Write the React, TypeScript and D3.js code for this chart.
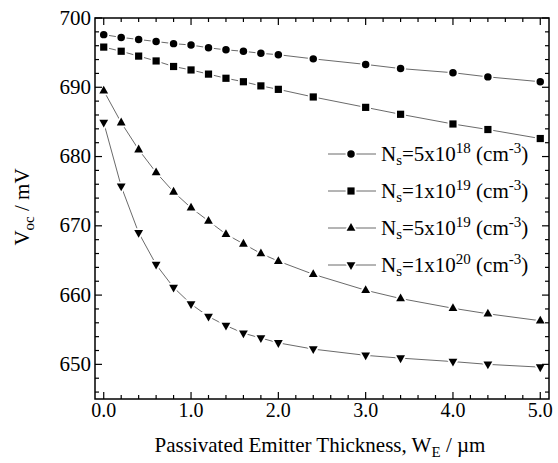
import * as d3 from 'd3';
import React from 'react';

// thickness W_E in um
const thickness = [0, 0.2, 0.4, 0.6, 0.8, 1.0, 1.2, 1.4, 1.6, 1.8, 2.0, 2.4, 3.0, 3.4, 4.0, 4.4, 5.0];

// Voc in mV, one array per surface concentration
const voc5e18 = [697.6, 697.2, 696.9, 696.6, 696.3, 696.1, 695.7, 695.4, 695.2, 694.9, 694.7, 694.1, 693.3, 692.7, 692.1, 691.5, 690.8];
const voc1e19 = [695.8, 695.2, 694.5, 693.8, 693.0, 692.5, 691.9, 691.3, 690.8, 690.2, 689.7, 688.6, 687.1, 686.1, 684.7, 683.9, 682.6];
const voc5e19 = [689.5, 684.9, 681.0, 677.7, 674.9, 672.6, 670.7, 668.8, 667.4, 666.0, 664.9, 663.0, 660.7, 659.5, 658.1, 657.3, 656.3];
const voc1e20 = [684.9, 675.7, 669.0, 664.4, 661.1, 658.7, 656.9, 655.6, 654.5, 653.8, 653.1, 652.2, 651.3, 650.9, 650.4, 650.0, 649.6];

const seriesMant = ['5', '1', '5', '1'];
const seriesExp = ['18', '19', '19', '20'];
const markers = ['circle', 'square', 'triUp', 'triDown'];

const xTickLabels = ['0.0', '1.0', '2.0', '3.0', '4.0', '5.0'];
const yTickValues = [650, 660, 670, 680, 690, 700];

const W = 558;
const H = 463;
const serif = 'Liberation Serif';

const left = 95, right = 549, top = 18, bottom = 399;
const x = d3.scaleLinear().domain([-0.1, 5.1]).range([left, right]);
const y = d3.scaleLinear().domain([645, 700]).range([bottom, top]);

function markerPath(kind: string) {
  if (kind === 'circle') return d3.symbol(d3.symbolCircle, 44)() as string;
  if (kind === 'square') return 'M-3.6,-3.6H3.6V3.6H-3.6Z';
  if (kind === 'triUp') return 'M0,-5L4.4,2.8H-4.4Z';
  return 'M0,5L4.4,-2.8H-4.4Z';
}

function Marker({ kind, cx, cy }: { kind: string; cx: number; cy: number }) {
  return (
    <path transform={`translate(${cx},${cy})`} d={markerPath(kind)}
      fill="#000" stroke="#fff" strokeWidth={3.5} style={{ paintOrder: 'stroke' }} />
  );
}

export default function App() {
  const all = [voc5e18, voc1e19, voc5e19, voc1e20];
  const line = d3.line<number>().x((d, i) => x(thickness[i])).y(d => y(d));
  const txt = { fontFamily: `'${serif}', monospace` };

  const xt = d3.range(0, 26).map(v => v / 5);
  const yt = d3.range(646, 701, 2);

  return (
    <svg width={W} height={H}
      style={{ position: 'absolute', left: 0, top: 0, background: '#fff' }}>
      {all.map((vals, si) => (
        <path key={'l' + si} d={line(vals) as string} fill="none" stroke="#444" strokeWidth={0.8} />
      ))}
      {all.map((vals, si) => vals.map((v, i) => (
        <Marker key={`m${si}-${i}`} kind={markers[si]} cx={x(thickness[i])} cy={y(v)} />
      )))}

      <rect x={left} y={top} width={right - left} height={bottom - top}
        fill="none" stroke="#000" strokeWidth={1.5} />

      {xt.map(v => {
        const len = Math.abs(v - Math.round(v)) < 1e-6 ? 7 : 4;
        return (
          <g key={'xt' + v} stroke="#000" strokeWidth={1.2}>
            <line x1={x(v)} x2={x(v)} y1={bottom} y2={bottom - len} />
            <line x1={x(v)} x2={x(v)} y1={top} y2={top + len} />
          </g>
        );
      })}
      {yt.map(v => {
        const len = v % 10 === 0 ? 7 : 4;
        return (
          <g key={'yt' + v} stroke="#000" strokeWidth={1.2}>
            <line x1={left} x2={left + len} y1={y(v)} y2={y(v)} />
            <line x1={right} x2={right - len} y1={y(v)} y2={y(v)} />
          </g>
        );
      })}

      {xTickLabels.map(d => (
        <text key={'xl' + d} x={x(+d)} y={417} textAnchor="middle" fontSize={20} style={txt}>{d}</text>
      ))}
      {yTickValues.map(d => (
        <text key={'yl' + d} x={91} y={y(d) + 6.5} textAnchor="end" fontSize={21} style={txt}>{d}</text>
      ))}

      <text x={320} y={452} textAnchor="middle" fontSize={21} style={txt}>
        <tspan>Passivated Emitter Thickness, W</tspan>
        <tspan dy={5} fontSize={15}>E</tspan>
        <tspan dy={-5}>{' / \u00b5m'}</tspan>
      </text>

      <text transform="translate(29,207) rotate(-90)" textAnchor="middle" fontSize={21} style={txt}>
        <tspan>V</tspan>
        <tspan dy={5} fontSize={15}>oc</tspan>
        <tspan dy={-5}>{' / mV'}</tspan>
      </text>

      {markers.map((m, i) => {
        const cy = 154 + i * 37;
        return (
          <g key={'lg' + i}>
            <line x1={328} x2={376} y1={cy} y2={cy} stroke="#444" strokeWidth={0.8} />
            <Marker kind={m} cx={351} cy={cy} />
            <text x={381} y={cy + 7} fontSize={21} style={txt}>
              <tspan>N</tspan>
              <tspan dy={4} fontSize={15}>s</tspan>
              <tspan dy={-4}>{`=${seriesMant[i]}x10`}</tspan>
              <tspan dy={-8} fontSize={15}>{seriesExp[i]}</tspan>
              <tspan dy={8}>{' (cm'}</tspan>
              <tspan dy={-8} fontSize={15}>-3</tspan>
              <tspan dy={8}>)</tspan>
            </text>
          </g>
        );
      })}
    </svg>
  );
}
